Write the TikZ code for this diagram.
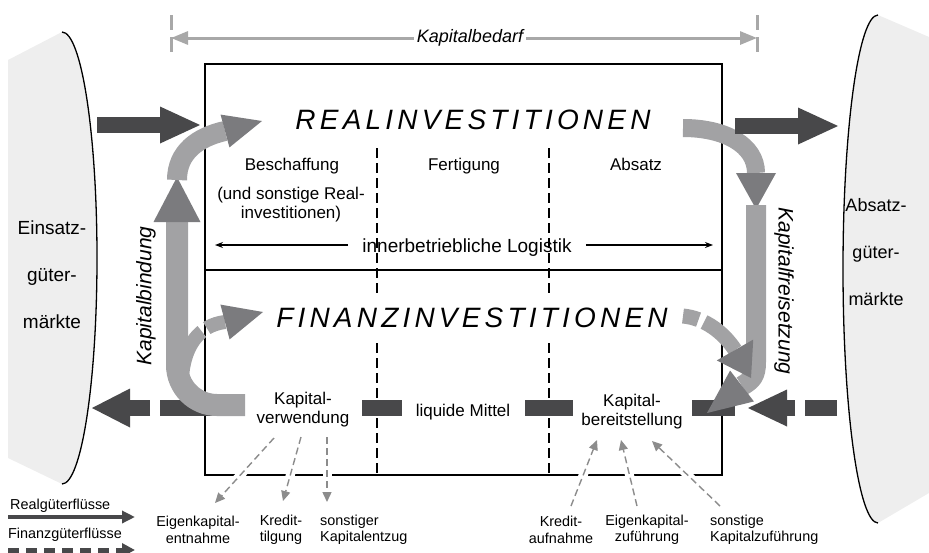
\documentclass[tikz,border=0pt]{standalone}
\usepackage{fontspec}
\setmainfont{Liberation Sans}
\newfontfamily\titlefont[LetterSpace=15]{Liberation Sans}
\usetikzlibrary{arrows.meta,calc,positioning}

\definecolor{bandgray}{HTML}{A2A2A4}
\definecolor{headgray}{HTML}{7B7B7E}
\definecolor{flowdark}{HTML}{48484A}
\definecolor{marketfill}{HTML}{EEEEEE}
\definecolor{bedarfgray}{HTML}{A8A8A8}
\definecolor{thingray}{HTML}{8C8C8C}

% head of a broad flow: tip, base point, half width
\newcommand\flowhead[4][headgray]{%
	\fill[#1] (#2) -- ($(#3)!#4!90:(#2)$) -- ($(#3)!#4!-90:(#2)$) -- cycle;}

\tikzset{
	band/.style={draw=bandgray, line width=#1},
	band/.default=20pt,
	realflow/.style={draw=flowdark, line width=16pt},
	colsep/.style={dash pattern=on 10pt off 5pt, line width=1.3pt},
	thinflow/.style={draw=thingray, line width=1.4pt,
		dash pattern=on 7pt off 4pt,
		-{Triangle[length=10pt,width=9pt]},
		preaction={draw=white, solid, line width=9pt, -}},
	txt/.style={inner sep=0pt},
	smalltxt/.style={font=\fontsize{14.4}{16.5}\selectfont, inner sep=0pt, align=center},
	markettxt/.style={font=\fontsize{19}{47}\selectfont, inner sep=0pt, align=center},
	headline/.style={font=\titlefont\itshape\fontsize{28}{30}\selectfont},
	sidetxt/.style={font=\itshape\fontsize{21}{24}\selectfont, inner sep=0pt}
}

\begin{document}
\begin{tikzpicture}[x=1pt,y=-1pt,font=\fontsize{17}{19}\selectfont]
	\useasboundingbox (0,0) rectangle (929,552);

	% markets
	\fill[marketfill] (8,60) -- (62,32)
		arc[start angle=90, end angle=-90, x radius=35pt, y radius=226pt] -- (8,458) -- cycle;
	\draw[line width=1.3pt] (62,32)
		arc[start angle=90, end angle=-90, x radius=35pt, y radius=226pt];
	\fill[marketfill] (929,37) -- (878,15)
		arc[start angle=90, end angle=270, x radius=35pt, y radius=254pt] -- (929,493) -- cycle;
	\draw[line width=1.3pt] (878,15)
		arc[start angle=90, end angle=270, x radius=35pt, y radius=254pt];

	\node[markettxt] (einsatz) at (52,275) {Einsatz-\\güter-\\märkte};
	\node[markettxt, font=\fontsize{18}{47}\selectfont] (absatzm) at (876,252) {Absatz-\\güter-\\märkte};

	% Kapitalbedarf
	\node[coordinate] (bedarf-l) at (171,38) {};
	\node[coordinate] (bedarf-r) at (757,38) {};
	\draw[bedarfgray, line width=3pt, dash pattern=on 15pt off 7pt]
		(171,15) -- (171,53) (757,15) -- (757,53);
	\draw[bedarfgray, line width=3pt,
		{Triangle[length=17pt,width=13pt]}-{Triangle[length=17pt,width=13pt]}]
		(bedarf-l) -- (bedarf-r);
	\node[fill=white, font=\itshape\fontsize{18}{20}\selectfont] (bedarf) at (470,38) {Kapitalbedarf};

	% company box
	\draw[line width=1.8pt] (205,64) rectangle (722,475);
	\draw[line width=1.8pt] (205,270) -- (722,270);
	\draw[colsep] (377,148) -- (377,475);
	\draw[colsep] (549,148) -- (549,475);

	\node[headline] (real) at (473,120) {REALINVESTITIONEN};
	\node[headline, fill=white, inner xsep=4pt, inner ysep=11pt] (finanz) at (472,318) {FINANZINVESTITIONEN};

	\node[txt, anchor=base] (besch) at (292,170) {Beschaffung};
	\node[txt, anchor=base] (fert) at (464,170) {Fertigung};
	\node[txt, anchor=base] (absatz) at (636,170) {Absatz};
	\node[txt, align=center] (besch-note) at (291,205) {(und sonstige Real-\\investitionen)};

	\node[txt, anchor=base, font=\fontsize{19}{21}\selectfont] (logistik) at (467,252) {innerbetriebliche Logistik};
	\node[coordinate] (log-l) at (215,245) {};
	\node[coordinate] (log-r) at (713,245) {};
	\draw[line width=1.2pt, -{Stealth[length=8pt,width=6pt]}] (logistik.west |- log-l) ++(-14,0) -- (log-l);
	\draw[line width=1.2pt, -{Stealth[length=8pt,width=6pt]}] (logistik.east |- log-r) ++(14,0) -- (log-r);

	\node[txt, align=center] (kverw) at (303,410) {Kapital-\\verwendung};
	\node[txt, anchor=base] (liquide) at (463,416) {liquide Mittel};
	\node[txt, align=center] (kbereit) at (632,412) {Kapital-\\bereitstellung};

	% Finanzgueterfluesse
	\foreach \xa/\xb in {362/402, 525/573, 692/735}
		\fill[flowdark] (\xa,400) rectangle (\xb,416);
	\node[coordinate] (kv-dark) at (235,408) {};
	\node[coordinate] (ez-base) at (130,408) {};
	\node[coordinate] (ez-tip) at (92,408) {};
	\draw[realflow, dash pattern=on 75pt off 10pt on 30pt] (kv-dark) -- (ez-base);
	\flowhead[flowdark]{ez-tip}{ez-base}{19.5pt}
	\node[coordinate] (am-out) at (837,408) {};
	\node[coordinate] (am-base) at (787,408) {};
	\node[coordinate] (am-tip) at (748,408) {};
	\draw[realflow, dash pattern=on 32pt off 10pt on 20pt] (am-out) -- (am-base);
	\flowhead[flowdark]{am-tip}{am-base}{18.5pt}

	% Kapitalbindung
	\node[coordinate] (kv-out) at (245,405) {};
	\node[coordinate] (bind-top) at (177,222) {};
	\node[coordinate] (bind-tip) at (177,177) {};
	\node[coordinate] (ri-base) at (225,131) {};
	\node[coordinate] (ri-tip) at (262,121) {};
	\node[coordinate] (br-start) at (182,378) {};
	\node[coordinate] (fi-base) at (225,322) {};
	\node[coordinate] (fi-tip) at (263,312) {};

	\draw[band=14pt, dash pattern=on 52pt off 6pt on 40pt]
		(br-start) .. controls (184,345) and (200,325) .. (fi-base);
	\flowhead{fi-tip}{fi-base}{18pt}
	\draw[band=22pt, rounded corners=40pt] (kv-out) -- (177,405) -- (bind-top);
	\flowhead{bind-tip}{bind-top}{23.5pt}
	\draw[band] (177,180) .. controls (177,152) and (198,137) .. (ri-base);
	\flowhead{ri-tip}{ri-base}{17pt}

	% Kapitalfreisetzung
	\node[coordinate] (ri-out) at (683,128) {};
	\node[coordinate] (frei-base) at (756,173) {};
	\node[coordinate] (frei-tip) at (756,209) {};
	\node[coordinate] (kb-base) at (742,386) {};
	\node[coordinate] (kb-tip) at (707,413) {};
	\node[coordinate] (fo-out) at (683,316) {};
	\node[coordinate] (fo-base) at (735,350) {};
	\node[coordinate] (fo-tip) at (751,378) {};

	\draw[band=18pt] (ri-out) .. controls (725,128) and (756,145) .. (frei-base);
	\flowhead{frei-tip}{frei-base}{20pt}
	\draw[band] (756,205) -- (756,362) .. controls (756,376) and (752,380) .. (kb-base);
	\draw[band=15pt, dash pattern=on 16pt off 6pt on 80pt]
		(fo-out) .. controls (705,318) and (724,333) .. (fo-base);
	\flowhead{fo-tip}{fo-base}{21pt}
	\flowhead{kb-tip}{kb-base}{19.5pt}

	\node[sidetxt, rotate=90] (bindung) at (146,296) {Kapitalbindung};
	\node[sidetxt, rotate=-90] (freisetz) at (784,291) {Kapitalfreisetzung};

	% Realgueterfluesse
	\node[coordinate] (em-out) at (97,125) {};
	\node[coordinate] (em-base) at (160,125) {};
	\node[coordinate] (em-tip) at (200,125) {};
	\draw[realflow] (em-out) -- (em-base);
	\flowhead[flowdark]{em-tip}{em-base}{18.5pt}
	\node[coordinate] (ab-out) at (735,126) {};
	\node[coordinate] (ab-base) at (798,126) {};
	\node[coordinate] (ab-tip) at (838,126) {};
	\draw[realflow] (ab-out) -- (ab-base);
	\flowhead[flowdark]{ab-tip}{ab-base}{18.5pt}

	% Kapitalentzug / Kapitalzufuehrung
	\node[coordinate] (kv-1) at (274,438) {};
	\node[coordinate] (kv-2) at (301,437) {};
	\node[coordinate] (kv-3) at (327,437) {};
	\node[coordinate] (ek-in) at (215,503) {};
	\node[coordinate] (kt-in) at (283,501) {};
	\node[coordinate] (sk-in) at (327,502) {};
	\draw[thinflow] (kv-1) -- (ek-in);
	\draw[thinflow] (kv-2) -- (kt-in);
	\draw[thinflow] (kv-3) -- (sk-in);

	\node[coordinate] (ka-out) at (571,506) {};
	\node[coordinate] (ez-out) at (637,506) {};
	\node[coordinate] (sz-out) at (720,506) {};
	\node[coordinate] (kb-1) at (597,440) {};
	\node[coordinate] (kb-2) at (621,440) {};
	\node[coordinate] (kb-3) at (652,441) {};
	\draw[thinflow] (ka-out) -- (kb-1);
	\draw[thinflow] (ez-out) -- (kb-2);
	\draw[thinflow] (sz-out) -- (kb-3);

	\node[smalltxt] (ekentn) at (198,530) {Eigenkapital-\\entnahme};
	\node[smalltxt] (ktilg) at (281,530) {Kredit-\\tilgung};
	\node[smalltxt, align=left, anchor=west] (sonstentz) at (320,530) {sonstiger\\Kapitalentzug};
	\node[smalltxt] (kaufn) at (561,530) {Kredit-\\aufnahme};
	\node[smalltxt] (ekzuf) at (647,530) {Eigenkapital-\\zuführung};
	\node[smalltxt, align=left, anchor=west] (sonstzuf) at (710,530) {sonstige\\Kapitalzuführung};

	% legend
	\node[smalltxt, anchor=base west] (leg-real) at (10,509) {Realgüterflüsse};
	\node[smalltxt, anchor=base west] (leg-fin) at (8,538) {Finanzgüterflüsse};
	\node[coordinate] (leg-a) at (8,517) {};
	\node[coordinate] (leg-b) at (135,517) {};
	\node[coordinate] (leg-c) at (8,550) {};
	\node[coordinate] (leg-d) at (135,550) {};
	\draw[flowdark, line width=4pt, -{Triangle[length=13pt,width=12pt]}] (leg-a) -- (leg-b);
	\draw[flowdark, line width=5pt, dash pattern=on 11pt off 7pt,
		-{Triangle[length=13pt,width=13pt]}] (leg-c) -- (leg-d);
\end{tikzpicture}
\end{document}
